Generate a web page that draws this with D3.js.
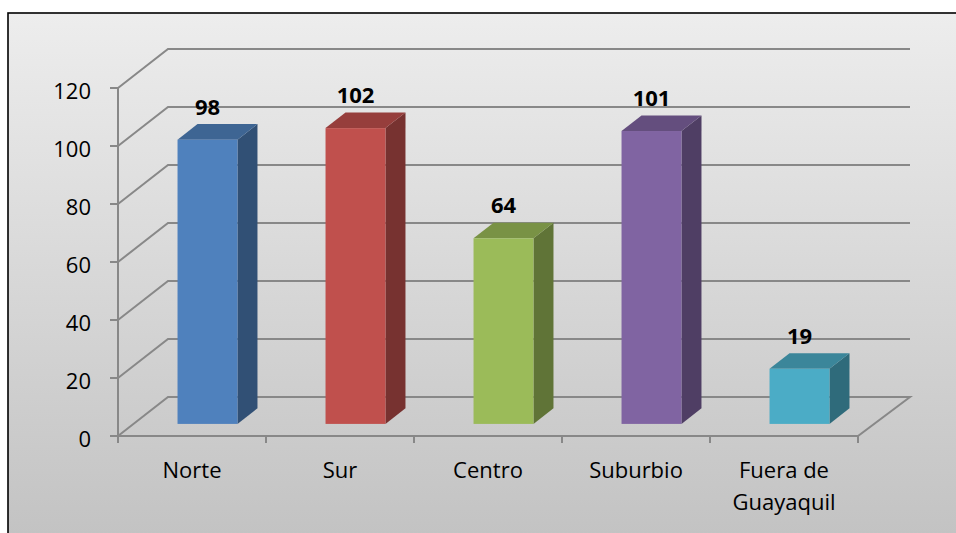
<!DOCTYPE html>
<html>
<head>
<meta charset="utf-8">
<script src="https://cdn.jsdelivr.net/npm/d3@7"></script>
<style>
  html, body { margin: 0; padding: 0; background: #ffffff; }
  svg { display: block; }
  text { font-family: "Open Sans", "Noto Sans", sans-serif; }
</style>
</head>
<body>
<svg id="chart" width="956" height="533"></svg>
<script>
// ---- data ----
const categories = ["Norte", "Sur", "Centro", "Suburbio", "Fuera de\nGuayaquil"];
const values = [98, 102, 64, 101, 19];
const colors = ["#4f81bd", "#c0504d", "#9bbb59", "#8064a2", "#4bacc6"];
const yTicks = [0, 20, 40, 60, 80, 100, 120];

// ---- layout ----
const W = 956, H = 533;
const svg = d3.select("#chart");
const defs = svg.append("defs");
const grad = defs.append("linearGradient").attr("id", "bg").attr("x1", 0).attr("y1", 0).attr("x2", 0).attr("y2", 1);
grad.append("stop").attr("offset", "0%").attr("stop-color", "#ededed");
grad.append("stop").attr("offset", "100%").attr("stop-color", "#c2c2c2");

svg.append("rect").attr("x", 8).attr("y", 13).attr("width", W).attr("height", H)
  .attr("fill", "url(#bg)").attr("stroke", "#000").attr("stroke-width", 1.6);

const depthDX = 50, depthDY = -39;       // full depth of 3D box
const y = d3.scaleLinear().domain([0, 120]).range([436, 88]);
const x = d3.scaleBand().domain(categories).range([118, 858]).padding(0);
const backRight = 910;
const gridColor = "#888888";

const g = svg.append("g");

// gridlines (front axis -> back wall)
yTicks.forEach(t => {
  if (t === 0) return;
  const yy = y(t);
  g.append("polyline")
    .attr("points", [[x.range()[0], yy], [x.range()[0] + depthDX, yy + depthDY], [backRight, yy + depthDY]].map(p => p.join(",")).join(" "))
    .attr("fill", "none").attr("stroke", gridColor).attr("stroke-width", 2);
});
// floor
const y0 = y(0);
g.append("polygon")
  .attr("points", [[x.range()[0], y0], [x.range()[0] + depthDX, y0 + depthDY], [backRight, y0 + depthDY], [x.range()[1], y0]].map(p => p.join(",")).join(" "))
  .attr("fill", "none").attr("stroke", gridColor).attr("stroke-width", 2);

// vertical axis
g.append("line").attr("x1", x.range()[0]).attr("x2", x.range()[0]).attr("y1", y(120)).attr("y2", y0)
  .attr("stroke", gridColor).attr("stroke-width", 2);
// y ticks + labels
yTicks.forEach(t => {
  g.append("line").attr("x1", x.range()[0] - 8).attr("x2", x.range()[0]).attr("y1", y(t)).attr("y2", y(t))
    .attr("stroke", gridColor).attr("stroke-width", 2);
  g.append("text").attr("x", 91).attr("y", y(t) + 2).attr("text-anchor", "end")
    .attr("dominant-baseline", "central").attr("font-size", 22).attr("fill", "#000").text(t);
});
// x ticks
const xTickPos = categories.map(c => x(c)).concat([x.range()[1]]);
xTickPos.forEach(px => {
  g.append("line").attr("x1", px).attr("x2", px).attr("y1", y0).attr("y2", y0 + 7)
    .attr("stroke", gridColor).attr("stroke-width", 2);
});

// bars
const frontDepth = 0.31, barDepth = 0.4;
const barW = x.bandwidth() * 0.405;
const ddx = depthDX * barDepth, ddy = depthDY * barDepth;
function shade(c, k) { const r = d3.rgb(c); return d3.rgb(r.r * k, r.g * k, r.b * k).toString(); }

categories.forEach((c, i) => {
  const v = values[i];
  const cx = x(c) + x.bandwidth() / 2 + depthDX * frontDepth;
  const xl = cx - barW / 2, xr = cx + barW / 2;
  const yb = y0 + depthDY * frontDepth;
  const yt = yb - (y0 - y(v));
  // side
  g.append("polygon").attr("points", [[xr, yt], [xr + ddx, yt + ddy], [xr + ddx, yb + ddy], [xr, yb]].map(p => p.join(",")).join(" "))
    .attr("fill", shade(colors[i], 0.62));
  // top
  g.append("polygon").attr("points", [[xl, yt], [xl + ddx, yt + ddy], [xr + ddx, yt + ddy], [xr, yt]].map(p => p.join(",")).join(" "))
    .attr("fill", shade(colors[i], 0.78));
  // front
  g.append("rect").attr("x", xl).attr("y", yt).attr("width", barW).attr("height", yb - yt)
    .attr("fill", colors[i]);
  // value label
  g.append("text").attr("x", cx).attr("y", yt - 25).attr("text-anchor", "middle")
    .attr("font-size", 22).attr("font-weight", "bold").attr("fill", "#000").text(v);
});

// category labels
categories.forEach(c => {
  const lines = c.split("\n");
  const t = g.append("text").attr("x", x(c) + x.bandwidth() / 2).attr("y", 478)
    .attr("text-anchor", "middle").attr("font-size", 22).attr("fill", "#000");
  lines.forEach((ln, j) => {
    t.append("tspan").attr("x", x(c) + x.bandwidth() / 2).attr("dy", j === 0 ? 0 : 32).text(ln);
  });
});
</script>
</body>
</html>
